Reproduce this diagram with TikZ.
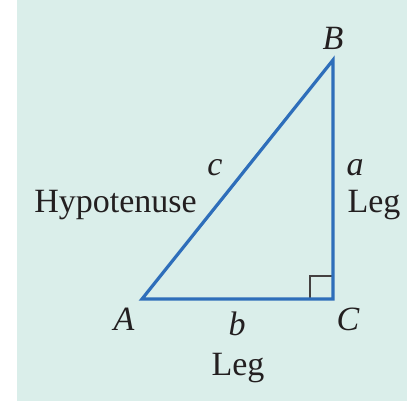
\documentclass[tikz,border=0pt]{standalone}
\usepackage{fontspec}
\setmainfont{Liberation Serif}
\usetikzlibrary{calc}
\definecolor{trBlue}{HTML}{2E6EBA}
\definecolor{trBack}{HTML}{DAEEEA}
\definecolor{trInk}{HTML}{231F20}
\tikzset{
  side/.style={draw=trBlue, line width=3.2pt, line join=miter},
  rmark/.style={draw=trInk!85, line width=1.4pt},
  vlbl/.style={font=\fontsize{34}{40}\selectfont\itshape, text=trInk, anchor=base, inner sep=0pt},
  wlbl/.style={font=\fontsize{34}{40}\selectfont, text=trInk, anchor=base, inner sep=0pt},
}
\begin{document}
\begin{tikzpicture}[x=1pt, y=1pt]
  \useasboundingbox (0,0) rectangle (412,405);
  \fill[trBack] (17,4) rectangle (407,405);
  % vertices
  \coordinate (A) at (142,106);
  \coordinate (C) at (333,106);
  \coordinate (B) at (333,345);
  \draw[rmark] ($(C)+(-23,0)$) -- ++(0,23) -- ++(23,0);
  \draw[side] (A) -- (B) -- (C) -- cycle;
  % labels
  \node[vlbl] (lblB) at (333,355) {B};
  \node[vlbl] (lblA) at (124,75) {A};
  \node[vlbl] (lblC) at (348,75) {C};
  \node[vlbl] (lblc) at (215,230) {c};
  \node[vlbl] (lbla) at (355,230) {a};
  \node[vlbl] (lblb) at (237,70) {b};
  \node[wlbl] (hyp) at (115.5,193) {Hypotenuse};
  \node[wlbl] (legA) at (374,193) {Leg};
  \node[wlbl] (legB) at (238,30) {Leg};
\end{tikzpicture}
\end{document}
